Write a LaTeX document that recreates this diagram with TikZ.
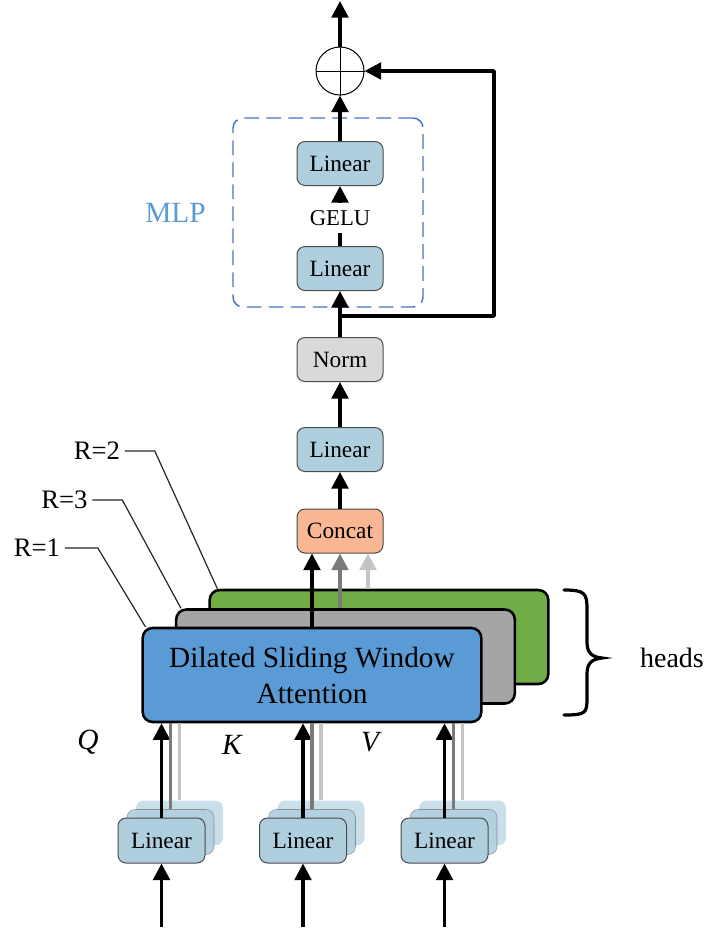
\documentclass[tikz,border=0pt]{standalone}
\usepackage{fontspec}
\setmainfont{Liberation Serif}
\usepackage{tikz}
\usetikzlibrary{calc}
\usetikzlibrary{positioning}
\usetikzlibrary{arrows.meta}
\definecolor{linblue}{HTML}{AFCEDE}
\definecolor{catorange}{HTML}{F9B793}
\definecolor{normgray}{HTML}{D9D9D9}
\definecolor{headblue}{HTML}{5B9BD5}
\definecolor{headgray}{HTML}{A5A5A5}
\definecolor{headgreen}{HTML}{70AD47}
\definecolor{mlpblue}{HTML}{4472C4}
\definecolor{mlptext}{HTML}{5B9BD5}
\definecolor{darkline}{HTML}{7A7A7A}
\definecolor{lightline}{HTML}{C4C4C4}

\begin{document}
\begin{tikzpicture}[x=0.75pt,y=-0.75pt]
\tikzstyle{blk}=[draw=black!70, line width=0.75pt, rounded corners=6pt, minimum 
width=64.5pt, minimum height=33pt, inner sep=0pt, font=\fontsize{17.5}{19}\selectfont]
\tikzstyle{back}=[fill=linblue, rounded corners=6pt, minimum width=65.25pt, 
minimum height=33.75pt]
\tikzstyle{head}=[draw, line width=1.9pt, rounded corners=7.5pt, minimum 
width=254pt, minimum height=70.5pt]
\tikzstyle{arr}=[line width=2.6pt, -{Triangle[width=12.5pt,length=12.5pt]}]
\tikzstyle{dgarr}=[arr, darkline]
\tikzstyle{lgarr}=[arr, lightline]
\tikzstyle{rline}=[line width=0.9pt, black!85]
\tikzstyle{lbl}=[font=\fontsize{20}{22}\selectfont]
\useasboundingbox (0,0) rectangle (724,929);

	% heads
	\node [head, fill=headgreen] (H3) at (379,637) {};
	\node [head, fill=headgray] (H2) at (345.5,656.5) {};
	\node [head, fill=headblue, align=center, 
	font=\fontsize{22}{27}\selectfont] (H1) at (312,675) {Dilated Sliding 
	Window\\Attention};
	
	% upper chain
	\node [blk, fill=catorange] (Cat) at (340,531) {Concat};
	\node [blk, fill=linblue] (Lout) at (340,449.5) {Linear};
	\node [blk, fill=normgray] (Nrm) at (340,359.5) {Norm};
	\node [blk, fill=linblue] (Mlp1) at (340,268.5) {Linear};
	\node [font=\fontsize{17}{18}\selectfont, inner xsep=2pt, inner ysep=5pt] 
	(Gelu) at (340,218) {GELU};
	\node [blk, fill=linblue] (Mlp2) at (340,163.5) {Linear};
	\node [circle, draw, line width=0.75pt, minimum size=36pt, inner sep=0pt] 
	(Add) at (340,71) {};
	\draw [line width=0.75pt] (Add.north) -- (Add.south) (Add.west) -- 
	(Add.east);
	
	% MLP box
	\node [draw=mlpblue, line width=1.1pt, dash pattern=on 11pt off 5.5pt, 
	rounded corners=7.5pt, minimum width=142.5pt, minimum height=141.75pt] 
	(MlpBox) at (328,212.5) {};
	\node [lbl, text=mlptext, font=\fontsize{22}{24}\selectfont] (MlpLbl) at 
	(175.5,213) {MLP};
	
	% Q inputs
	\node [back, fill opacity=0.65] (Lq3) at (179.5,823) {};
	\node [back, draw=black!70, draw opacity=0.5, fill opacity=0.9] (Lq2) at 
	(170.5,832) {};
	\node [blk, fill=linblue, minimum width=65.25pt, minimum height=33.75pt] 
	(Lq) at (161.5,840.5) {Linear};
	
	% K inputs
	\node [back, fill opacity=0.65] (Lk3) at (321,823) {};
	\node [back, draw=black!70, draw opacity=0.5, fill opacity=0.9] (Lk2) at 
	(312,832) {};
	\node [blk, fill=linblue, minimum width=65.25pt, minimum height=33.75pt] 
	(Lk) at (303,840.5) {Linear};
	
	% V inputs
	\node [back, fill opacity=0.65] (Lv3) at (462.5,823) {};
	\node [back, draw=black!70, draw opacity=0.5, fill opacity=0.9] (Lv2) at 
	(453.5,832) {};
	\node [blk, fill=linblue, minimum width=65.25pt, minimum height=33.75pt] 
	(Lv) at (444.5,840.5) {Linear};
	
	\coordinate (qin) at (161.5,927);
	\coordinate (kin) at (303,927);
	\coordinate (vin) at (444.5,927);
	\draw [arr] (qin) -- (Lq.south);
	\draw [arr] (kin) -- (Lk.south);
	\draw [arr] (vin) -- (Lv.south);
	
	% into attention
	\draw [arr] (Lq.north) -- (Lq.north |- H1.south);
	\draw [line width=2.6pt, darkline] (Lq2.north) -- (Lq2.north |- H1.south);
	\draw [line width=2.6pt, lightline] (Lq3.north) -- (Lq3.north |- 
	H1.south);
	\draw [arr] (Lk.north) -- (Lk.north |- H1.south);
	\draw [line width=2.6pt, darkline] (Lk2.north) -- (Lk2.north |- H1.south);
	\draw [line width=2.6pt, lightline] (Lk3.north) -- (Lk3.north |- 
	H1.south);
	\draw [arr] (Lv.north) -- (Lv.north |- H1.south);
	\draw [line width=2.6pt, darkline] (Lv2.north) -- (Lv2.north |- H1.south);
	\draw [line width=2.6pt, lightline] (Lv3.north) -- (Lv3.north |- 
	H1.south);
	
	\node [lbl, font=\fontsize{22}{24}\selectfont\itshape] (Q) at (88,742) {Q};
	\node [lbl, font=\fontsize{22}{24}\selectfont\itshape] (K) at (232,745) {K};
	\node [lbl, font=\fontsize{22}{24}\selectfont\itshape] (V) at (370,742) {V};
	
	% heads into concat
	\coordinate (c3) at ($(Cat.south)+(28,0)$);
	\draw [arr] (H1.north) -- (H1.north |- Cat.south);
	\draw [dgarr] (Cat.south |- H2.north) -- (Cat.south);
	\draw [lgarr] (c3 |- H3.north) -- (c3);
	
	% chain
	\draw [arr] (Cat.north) -- (Lout.south);
	\draw [arr] (Lout.north) -- (Nrm.south);
	\draw [arr] (Nrm.north) -- (Mlp1.south);
	\draw [line width=2.6pt] (Mlp1.north) -- (Gelu.south);
	\draw [arr] (Gelu.north) -- (Mlp2.south);
	\draw [arr] (Mlp2.north) -- (Add.south);
	\coordinate (top) at (340,1);
	\draw [arr] (Add.north) -- (top);
	
	% residual
	\coordinate (br) at (340,316);
	\coordinate (rt) at (494,316);
	\draw [arr, line join=round] (br) -- (rt) |- (Add.east);
	
	% R labels
	\node [lbl] (R2) at (97,451) {R=2};
	\node [lbl] (R3) at (64.5,500) {R=3};
	\node [lbl] (R1) at (37,548) {R=1};
	\draw [rline] (R2.east) -- ++(30,0) -- ($(H3.north west)+(9,0)$);
	\draw [rline] (R3.east) -- ++(30,0) -- ($(H2.north west)+(6,0)$);
	\draw [rline] (R1.east) -- ++(33,0) -- ($(H1.north west)+(4,0)$);
	
	% brace
	\draw [line width=2.4pt, line cap=round] (564,590) .. controls (586,590) 
	and (587,594) .. (587,610) -- (587,642) .. controls (587,653) and 
	(592,657) .. (602,658) .. controls (592,659) and (587,663) .. (587,674) -- 
	(587,698) .. controls (587,713) and (586,715) .. (564,715);
	\node [lbl, font=\fontsize{21}{24}\selectfont] (Heads) at (672,658) 
	{heads};
\end{tikzpicture}
\end{document}
